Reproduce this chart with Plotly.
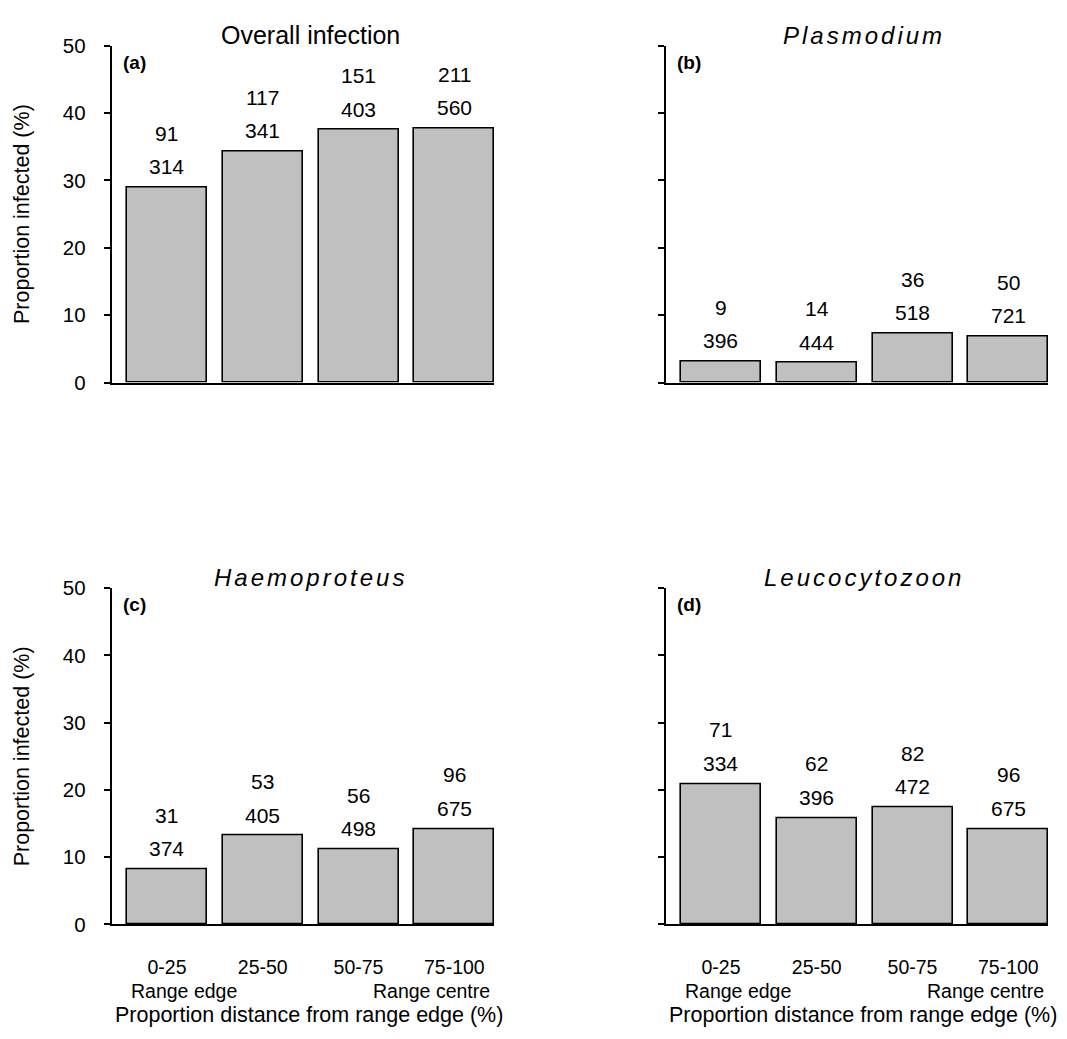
import plotly.graph_objects as go

# ---- data -------------------------------------------------------------
categories = ["0-25", "25-50", "50-75", "75-100"]

overall_pct = [29.0, 34.3, 37.5, 37.7]
overall_infected = [91, 117, 151, 211]
overall_sampled = [314, 341, 403, 560]

plasmodium_pct = [3.2, 2.95, 7.3, 6.9]
plasmodium_infected = [9, 14, 36, 50]
plasmodium_sampled = [396, 444, 518, 721]

haemoproteus_pct = [8.2, 13.2, 11.2, 14.2]
haemoproteus_infected = [31, 53, 56, 96]
haemoproteus_sampled = [374, 405, 498, 675]

leucocytozoon_pct = [20.9, 15.85, 17.4, 14.2]
leucocytozoon_infected = [71, 62, 82, 96]
leucocytozoon_sampled = [334, 396, 472, 675]

y_ticks = [0, 10, 20, 30, 40, 50]

# ---- layout helpers ---------------------------------------------------
W, H = 1067, 1039
FONT = "Liberation Sans, Arial, sans-serif"


def fx(px):
    return px / W


def fy(py):
    return 1 - py / H


panels = [
    # (values, infected, sampled, title, italic, tag, x0, x1, ytop, ybottom)
    (overall_pct, overall_infected, overall_sampled, "Overall infection", False, "(a)", 112, 494.3, 34.3, 379),
    (plasmodium_pct, plasmodium_infected, plasmodium_sampled, "Plasmodium", True, "(b)", 666, 1048.3, 34.3, 379),
    (haemoproteus_pct, haemoproteus_infected, haemoproteus_sampled, "Haemoproteus", True, "(c)", 112, 494.3, 589.3, 933),
    (leucocytozoon_pct, leucocytozoon_infected, leucocytozoon_sampled, "Leucocytozoon", True, "(d)", 666, 1048.3, 589.3, 933),
]

x_range = [-0.574, 3.4175]
bar_width = 0.835

fig = go.Figure()
annotations = []
layout_axes = {}

for i, (vals, inf, n, title, italic, tag, x0, x1, ytop, ybot) in enumerate(panels):
    k = "" if i == 0 else str(i + 1)
    left_col = x0 < 300
    bottom_row = ybot > 500

    fig.add_trace(go.Bar(
        x=list(range(len(categories))), y=vals, width=bar_width,
        marker=dict(color="#C0C0C0", line=dict(color="black", width=1.6)),
        xaxis="x" + k, yaxis="y" + k, showlegend=False, hoverinfo="skip",
    ))

    layout_axes["xaxis" + k] = dict(
        domain=[fx(x0), fx(x1)], anchor="y" + k, range=x_range,
        tickmode="array", tickvals=list(range(len(categories))), ticktext=categories,
        showticklabels=bottom_row, ticks="", ticklabelstandoff=25,
        tickfont=dict(family=FONT, size=19.5, color="black"),
        showline=True, linecolor="black", linewidth=1.5,
        showgrid=False, zeroline=False, fixedrange=True,
    )
    layout_axes["yaxis" + k] = dict(
        domain=[fy(ybot), fy(ytop)], anchor="x" + k, range=[0, 50],
        tickmode="array", tickvals=y_ticks,
        showticklabels=left_col, ticks="outside", ticklen=6.5, tickwidth=1.5,
        tickcolor="black", ticklabelstandoff=14,
        tickfont=dict(family=FONT, size=20.5, color="black"),
        showline=True, linecolor="black", linewidth=1.5,
        showgrid=False, zeroline=False, fixedrange=True,
    )

    # counts above each bar: infected on top, sampled below
    for j in range(len(categories)):
        for shift, txt in ((20.5, n[j]), (54, inf[j])):
            annotations.append(dict(
                x=j, y=vals[j], xref="x" + k, yref="y" + k, yshift=shift,
                text=str(txt), showarrow=False, xanchor="center", yanchor="middle",
                font=dict(family=FONT, size=21, color="black"),
            ))

    # panel title
    tcx = 310 if left_col else 864
    tcy = ytop - 10.5
    if italic:
        ttext = "<i><span style='letter-spacing:3px'>%s</span></i>" % title
        tsize = 24
    else:
        ttext = title
        tsize = 25
    annotations.append(dict(
        x=fx(tcx), y=fy(tcy), xref="paper", yref="paper", text=ttext,
        showarrow=False, xanchor="center", yanchor="middle",
        font=dict(family=FONT, size=tsize, color="black"),
    ))

    # panel tag
    annotations.append(dict(
        x=fx(x0 + 9), y=fy(ytop + 17), xref="paper", yref="paper",
        text="<b>%s</b>" % tag, showarrow=False, xanchor="left", yanchor="middle",
        font=dict(family=FONT, size=19, color="black"),
    ))

    # y-axis title on the left column
    if left_col:
        annotations.append(dict(
            x=fx(22), y=fy((ytop + ybot) / 2), xref="paper", yref="paper",
            text="Proportion infected (%)", textangle=-90, showarrow=False,
            xanchor="center", yanchor="middle",
            font=dict(family=FONT, size=21.5, color="black"),
        ))

    # x-axis annotations under the bottom row
    if bottom_row:
        annotations.append(dict(
            x=fx(x0 + 72), y=fy(ybot + 68), xref="paper", yref="paper",
            text="Range edge", showarrow=False, xanchor="center", yanchor="middle",
            font=dict(family=FONT, size=19.5, color="black"),
        ))
        annotations.append(dict(
            x=fx(x0 + 319), y=fy(ybot + 68), xref="paper", yref="paper",
            text="Range centre", showarrow=False, xanchor="center", yanchor="middle",
            font=dict(family=FONT, size=19.5, color="black"),
        ))
        annotations.append(dict(
            x=fx(x0 + 197), y=fy(ybot + 93), xref="paper", yref="paper",
            text="Proportion distance from range edge (%)", showarrow=False,
            xanchor="center", yanchor="middle",
            font=dict(family=FONT, size=21.5, color="black"),
        ))

fig.update_layout(
    width=W, height=H, margin=dict(l=0, r=0, t=0, b=0),
    paper_bgcolor="white", plot_bgcolor="white",
    annotations=annotations, bargap=0, **layout_axes,
)

fig.write_html("out.html", config={"displayModeBar": False})
